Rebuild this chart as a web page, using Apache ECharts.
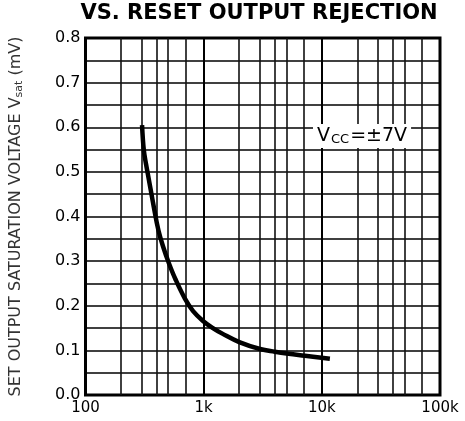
<!DOCTYPE html>
<html>
<head>
<meta charset="utf-8">
<script src="https://cdn.jsdelivr.net/npm/echarts@6/dist/echarts.min.js"></script>
<style>html,body{margin:0;padding:0;background:#fff}#c{width:465px;height:421px}</style>
</head>
<body>
<div id="c"></div>
<script>
// Data
const freqHz = [301, 311.5, 326.5, 342.5, 377.5, 415, 457, 503.5, 576, 694, 814, 987, 1197, 1451, 2000, 3000, 4000, 5235, 7200, 11700];
const vsatMV = [0.605, 0.549, 0.515, 0.485, 0.423, 0.368, 0.330, 0.298, 0.260, 0.216, 0.188, 0.166, 0.150, 0.137, 0.1185, 0.103, 0.097, 0.0925, 0.088, 0.081];
const minorGridFreqs = [200, 300, 400, 500, 700, 2000, 3000, 4000, 5000, 7000, 20000, 30000, 40000, 50000, 70000];
const xTickLabels = {100: '100', 1000: '1k', 10000: '10k', 100000: '100k'};
const titleText = 'VS. RESET OUTPUT REJECTION';
const annotation = 'V{sub|CC}=±7V';

const chart = echarts.init(document.getElementById('c'), null, {renderer: 'canvas'});
const font = '"DejaVu Sans", "Liberation Sans", sans-serif';
chart.setOption({
  animation: false,
  backgroundColor: '#fff',
  title: {
    text: titleText, left: 254, top: -2, textAlign: 'center',
    textStyle: {fontFamily: font, fontWeight: 'bold', fontSize: 21, color: '#000'}
  },
  grid: {left: 81, right: 25, top: 38, bottom: 26, show: true, borderColor: '#000', borderWidth: 3, backgroundColor: 'transparent', z: 5},
  xAxis: {
    type: 'log', logBase: 10, min: 100, max: 100000,
    axisLine: {show: false}, axisTick: {show: false},
    axisLabel: {fontFamily: font, fontSize: 15, color: '#000', margin: 6,
      formatter: v => xTickLabels[Math.round(v)] || ''},
    splitLine: {show: true, lineStyle: {color: '#000', width: 2}}
  },
  yAxis: {
    type: 'value', min: 0, max: 0.8, interval: 0.05,
    axisLine: {show: false}, axisTick: {show: false},
    axisLabel: {fontFamily: font, fontSize: 16, color: '#000', margin: 5,
      formatter: v => (Math.round(v * 100) % 10 === 0) ? v.toFixed(1) : ''},
    splitLine: {show: true, lineStyle: {color: '#000', width: 1.6}},
    name: 'SET OUTPUT SATURATION VOLTAGE V{sub|sat} (mV)',
    nameLocation: 'middle', nameRotate: 90, nameGap: 61,
    nameTextStyle: {fontFamily: font, fontSize: 16, color: '#333',
      rich: {sub: {fontFamily: font, fontSize: 11, color: '#333', padding: [6, 0, 0, 0]}}}
  },
  series: [{
    type: 'line',
    data: freqHz.map((f, i) => [f, vsatMV[i]]),
    smooth: 0.4, showSymbol: false, z: 10,
    lineStyle: {color: '#000', width: 4.5},
    markLine: {
      silent: true, symbol: 'none', label: {show: false},
      lineStyle: {color: '#111', width: 1.6, type: 'solid'},
      data: minorGridFreqs.map(f => ({xAxis: f}))
    }
  }],
  graphic: [{
    type: 'text', left: 313, top: 124, z: 20,
    style: {
      text: annotation, fontFamily: font, fontSize: 19, fill: '#000',
      backgroundColor: '#fff', padding: [2, 4, 2, 4],
      rich: {sub: {fontFamily: font, fontSize: 13, fill: '#000', padding: [7, 1, 0, 1]}}
    }
  }]
});
</script>
</body>
</html>
